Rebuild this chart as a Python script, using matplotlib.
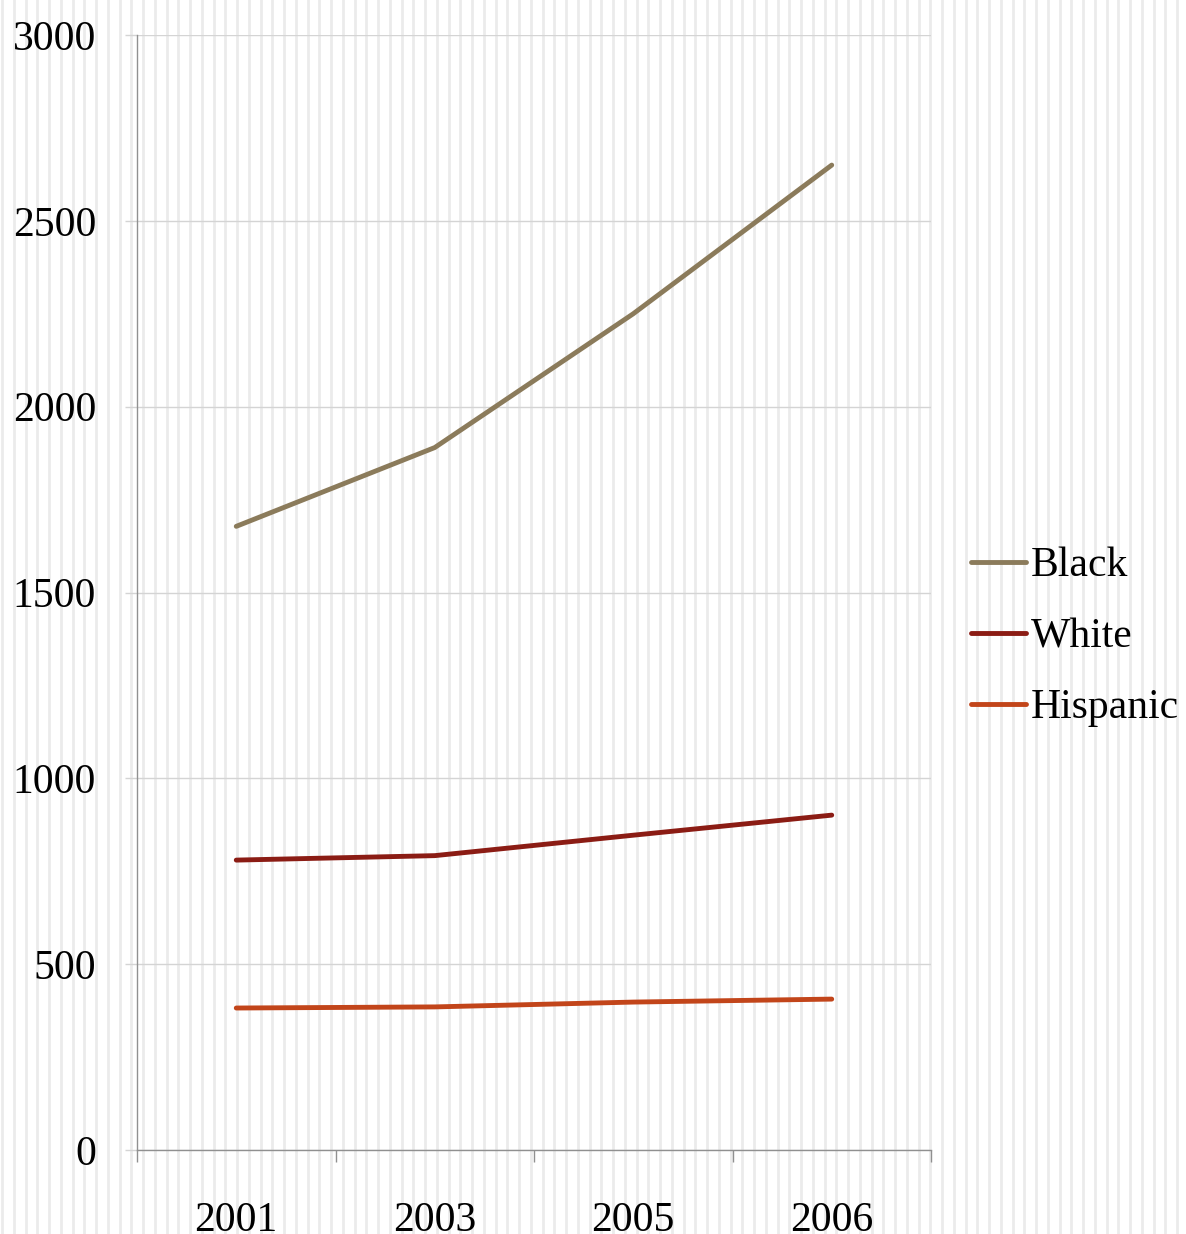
"""Line chart: counts by group, 2001-2006, on a striped background."""
import numpy as np
import matplotlib
matplotlib.use("Agg")
import matplotlib.pyplot as plt

years = ["2001", "2003", "2005", "2006"]
black = [1678, 1890, 2250, 2650]
white = [780, 792, 847, 901]
hispanic = [382, 385, 398, 406]

series = [
    ("Black", black, "#8b7b5b"),
    ("White", white, "#8b1c14"),
    ("Hispanic", hispanic, "#c2451a"),
]

plt.rcParams["font.family"] = ["Liberation Serif", "DejaVu Serif"]

W, H = 1186, 1234
fig = plt.figure(figsize=(W / 100, H / 100), dpi=100)

# striped background over the whole figure
bg = fig.add_axes([0, 0, 1, 1], zorder=0)
bg.set_xlim(0, W)
bg.set_ylim(0, H)
bg.axis("off")
for sx in np.arange(2, W, 11.75):
    bg.axvline(sx, color="#ebebeb", lw=2.0)

ax = fig.add_axes([137 / W, 1 - 1150 / H, (931 - 137) / W, (1150 - 35) / H], zorder=1)
ax.patch.set_alpha(0)

x = np.arange(len(years))
for name, vals, color in series:
    ax.plot(x, vals, color=color, lw=3.5, label=name, solid_capstyle="round")

ax.set_xlim(-0.5, len(years) - 0.5)
ax.set_ylim(0, 3000)
ax.set_yticks(np.arange(0, 3001, 500))
ax.yaxis.grid(True, color="#d4d4d4", lw=1.0)
ax.set_axisbelow(True)

# category boundary ticks, labels at centres
ax.set_xticks(np.arange(-0.5, len(years)), labels=[])
ax.set_xticks(x, labels=years, minor=True)
ax.tick_params(axis="x", which="major", direction="out", length=8.5, color="#909090", width=1)
ax.tick_params(axis="x", which="minor", length=0, pad=37, labelsize=30)
ax.tick_params(axis="y", direction="out", length=8.5, color="#d4d4d4", width=1,
               pad=21, labelsize=30)

for side in ["top", "right"]:
    ax.spines[side].set_visible(False)
for side in ["left", "bottom"]:
    ax.spines[side].set_color("#909090")
    ax.spines[side].set_linewidth(1.0)

leg = ax.legend(loc="center left", bbox_to_anchor=(1.03, 0.46), frameon=False,
                fontsize=30, handlelength=1.3, handletextpad=0.12,
                labelspacing=0.78, borderaxespad=0)

fig.savefig("out.png", dpi=100)
